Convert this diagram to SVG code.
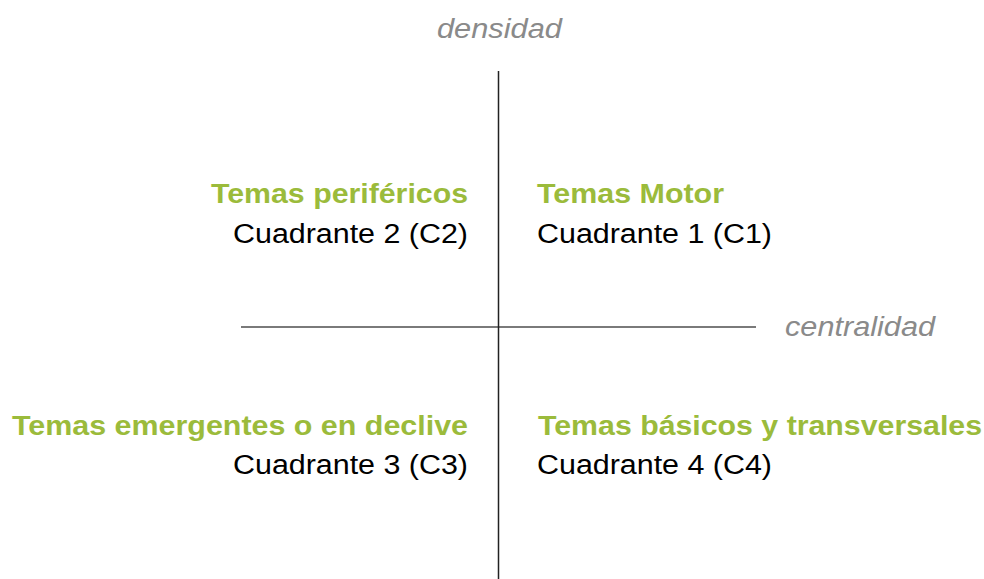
<svg xmlns="http://www.w3.org/2000/svg" width="984" height="579" viewBox="0 0 984 579">
<style>
text{font-family:"Liberation Sans",Arial,sans-serif;font-size:27px}
.t{font-weight:bold;fill:#9bbb3b}
.s{fill:#000}
.a{font-style:italic;fill:#8a8a8a}
</style>
<rect width="984" height="579" fill="#fff"/>
<g id="axes">
<line x1="241" y1="327" x2="756" y2="327" stroke="#7a7a7a" stroke-width="2"/>
<line x1="498.5" y1="71" x2="498.5" y2="579" stroke="#222" stroke-width="1.5"/>
</g>
<g id="axis-labels">
<text class="a" x="437" y="38" textLength="125" lengthAdjust="spacingAndGlyphs">densidad</text>
<text class="a" x="785" y="336" textLength="150" lengthAdjust="spacingAndGlyphs">centralidad</text>
</g>
<g id="q2"><text class="t" x="211" y="203" textLength="257" lengthAdjust="spacingAndGlyphs">Temas periféricos</text><text class="s" x="233" y="243" textLength="235" lengthAdjust="spacingAndGlyphs">Cuadrante 2 (C2)</text></g>
<g id="q1"><text class="t" x="537" y="203" textLength="187" lengthAdjust="spacingAndGlyphs">Temas Motor</text><text class="s" x="537" y="243" textLength="235" lengthAdjust="spacingAndGlyphs">Cuadrante 1 (C1)</text></g>
<g id="q3"><text class="t" x="12" y="435" textLength="456" lengthAdjust="spacingAndGlyphs">Temas emergentes o en declive</text><text class="s" x="233" y="474" textLength="235" lengthAdjust="spacingAndGlyphs">Cuadrante 3 (C3)</text></g>
<g id="q4"><text class="t" x="538" y="435" textLength="444" lengthAdjust="spacingAndGlyphs">Temas básicos y transversales</text><text class="s" x="537" y="474" textLength="235" lengthAdjust="spacingAndGlyphs">Cuadrante 4 (C4)</text></g>
</svg>
